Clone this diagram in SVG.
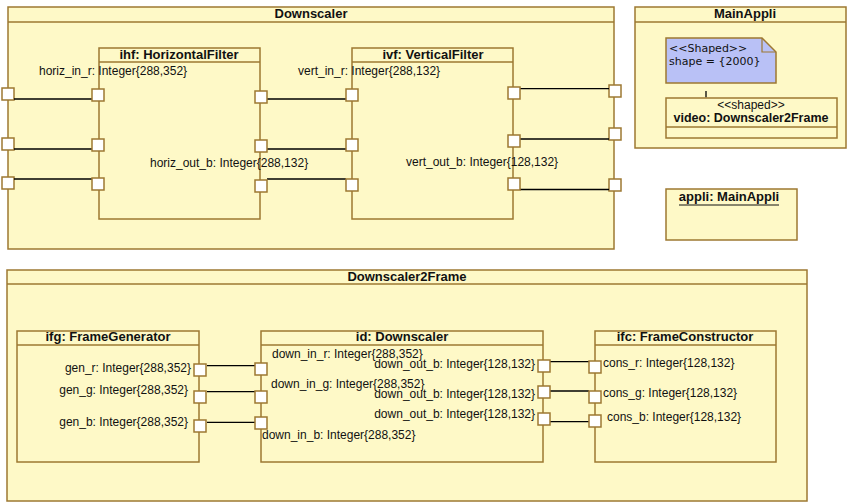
<svg xmlns="http://www.w3.org/2000/svg" width="847" height="502" viewBox="0 0 847 502">
<style>
.fr{fill:#fef9c7;stroke:#9d7832;stroke-width:1.5}
.bx{fill:#fef9c7;stroke:#9d7832;stroke-width:1.5}
.dv{stroke:#9d7832;stroke-width:1.5}
.pt{fill:#ffffff;stroke:#9d7832;stroke-width:1.5}
.cn{stroke:#000;stroke-width:1.3;fill:none}
.t{font-family:"Liberation Sans",Arial,sans-serif;font-size:12px;fill:#111}
.b{font-family:"Liberation Sans",Arial,sans-serif;font-size:13px;font-weight:bold;fill:#111;text-anchor:middle}
.m{font-family:"DejaVu Sans",sans-serif;font-size:11px;fill:#111}
</style>
<rect width="847" height="502" fill="#ffffff"/>
<g id="Downscaler">
<rect class="fr" x="8" y="7" width="606" height="242"/>
<line class="dv" x1="8" y1="22" x2="614" y2="22"/>
<text class="b" x="311" y="18">Downscaler</text>
<rect class="pt" x="2" y="88" width="12" height="12"/>
<rect class="pt" x="2" y="138" width="12" height="12"/>
<rect class="pt" x="2" y="177" width="12" height="12"/>
<rect class="pt" x="609" y="85" width="12" height="12"/>
<rect class="pt" x="609" y="128" width="12" height="12"/>
<rect class="pt" x="609" y="179" width="12" height="12"/>
</g>
<g id="MainAppli">
<rect class="fr" x="635" y="7" width="211" height="141"/>
<line class="dv" x1="635" y1="22" x2="846" y2="22"/>
<text class="b" x="745" y="18">MainAppli</text>
</g>
<g id="Downscaler2Frame">
<rect class="fr" x="7" y="270" width="800" height="231"/>
<line class="dv" x1="7" y1="284" x2="807" y2="284"/>
<text class="b" x="407" y="281">Downscaler2Frame</text>
</g>
<g id="connectors">
<line class="cn" x1="14" y1="99" x2="92" y2="99"/>
<line class="cn" x1="14" y1="149" x2="92" y2="149"/>
<line class="cn" x1="14" y1="179" x2="92" y2="179"/>
<line class="cn" x1="267" y1="99" x2="346" y2="99"/>
<line class="cn" x1="267" y1="149" x2="346" y2="149"/>
<line class="cn" x1="267" y1="179" x2="346" y2="179"/>
<line class="cn" x1="520" y1="88.7" x2="609" y2="88.7"/>
<line class="cn" x1="520" y1="139" x2="609" y2="139"/>
<line class="cn" x1="520" y1="189.5" x2="609" y2="189.5"/>
<line class="cn" x1="207" y1="365.7" x2="255" y2="365.7"/>
<line class="cn" x1="207" y1="391.7" x2="255" y2="391.7"/>
<line class="cn" x1="207" y1="422.3" x2="255" y2="422.3"/>
<line class="cn" x1="550" y1="361.7" x2="589" y2="361.7"/>
<line class="cn" x1="550" y1="391" x2="589" y2="391"/>
<line class="cn" x1="550" y1="421.7" x2="589" y2="421.7"/>
<line class="cn" x1="706" y1="91" x2="706" y2="97.5"/>
</g>
<g id="ihf">
<rect class="bx" x="99" y="48" width="161" height="171"/>
<line class="dv" x1="99" y1="62" x2="260" y2="62"/>
<text class="b" x="179" y="59">ihf: HorizontalFilter</text>
<rect class="pt" x="92" y="89" width="12" height="12"/>
<rect class="pt" x="92" y="139" width="12" height="12"/>
<rect class="pt" x="92" y="178" width="12" height="12"/>
<rect class="pt" x="255" y="91" width="12" height="12"/>
<rect class="pt" x="255" y="140" width="12" height="12"/>
<rect class="pt" x="255" y="180" width="12" height="12"/>
<text class="t" x="39" y="75">horiz_in_r: Integer{288,352}</text>
<text class="t" x="150" y="167">horiz_out_b: Integer{288,132}</text>
</g>
<g id="ivf">
<rect class="bx" x="352" y="48" width="161" height="171"/>
<line class="dv" x1="352" y1="62" x2="513" y2="62"/>
<text class="b" x="433" y="59">ivf: VerticalFilter</text>
<rect class="pt" x="346" y="89" width="12" height="12"/>
<rect class="pt" x="346" y="139" width="12" height="12"/>
<rect class="pt" x="346" y="179" width="12" height="12"/>
<rect class="pt" x="508" y="87" width="12" height="12"/>
<rect class="pt" x="508" y="135" width="12" height="12"/>
<rect class="pt" x="508" y="178" width="12" height="12"/>
<text class="t" x="298" y="75">vert_in_r: Integer{288,132}</text>
<text class="t" x="406" y="166">vert_out_b: Integer{128,132}</text>
</g>
<g id="note">
<path d="M666,38 H762 L776,52 V83 H666 Z" fill="#b9c1f6" stroke="#9d7832" stroke-width="1.5"/>
<path d="M762,38 V52 H776" fill="none" stroke="#9d7832" stroke-width="1.2"/>
<text class="m" x="669" y="52">&lt;&lt;Shaped&gt;&gt;</text>
<text class="m" x="669" y="65">shape = {2000}</text>
</g>
<g id="video">
<rect class="bx" x="666" y="98" width="171" height="40"/>
<line class="dv" x1="666" y1="127" x2="837" y2="127"/>
<text class="t" x="751" y="108.5" text-anchor="middle">&lt;&lt;shaped&gt;&gt;</text>
<text class="b" x="751" y="122" style="font-size:12.5px">video: Downscaler2Frame</text>
</g>
<g id="appli">
<rect class="bx" x="666" y="189" width="131" height="51"/>
<text class="b" x="729" y="201">appli: MainAppli</text>
<line x1="679" y1="205" x2="779" y2="205" stroke="#111" stroke-width="1"/>
</g>
<g id="ifg">
<rect class="bx" x="17" y="331" width="182" height="131"/>
<line class="dv" x1="17" y1="345" x2="199" y2="345"/>
<text class="b" x="108" y="341">ifg: FrameGenerator</text>
<rect class="pt" x="194" y="364" width="12" height="12"/>
<rect class="pt" x="194" y="391" width="12" height="12"/>
<rect class="pt" x="194" y="420" width="12" height="12"/>
<text class="t" x="191" y="372" text-anchor="end">gen_r: Integer{288,352}</text>
<text class="t" x="188" y="394" text-anchor="end">gen_g: Integer{288,352}</text>
<text class="t" x="188" y="426" text-anchor="end">gen_b: Integer{288,352}</text>
</g>
<g id="id">
<rect class="bx" x="261" y="331" width="282" height="131"/>
<line class="dv" x1="261" y1="345" x2="543" y2="345"/>
<text class="b" x="402" y="341">id: Downscaler</text>
<rect class="pt" x="255" y="363" width="12" height="12"/>
<rect class="pt" x="255" y="391" width="12" height="12"/>
<rect class="pt" x="255" y="417" width="12" height="12"/>
<rect class="pt" x="538" y="360" width="12" height="12"/>
<rect class="pt" x="538" y="386" width="12" height="12"/>
<rect class="pt" x="538" y="413" width="12" height="12"/>
<text class="t" x="272" y="358">down_in_r: Integer{288,352}</text>
<text class="t" x="271" y="388">down_in_g: Integer{288,352}</text>
<text class="t" x="262" y="439">down_in_b: Integer{288,352}</text>
<text class="t" x="535" y="368" text-anchor="end">down_out_b: Integer{128,132}</text>
<text class="t" x="535" y="398" text-anchor="end">down_out_b: Integer{128,132}</text>
<text class="t" x="535" y="418" text-anchor="end">down_out_b: Integer{128,132}</text>
</g>
<g id="ifc">
<rect class="bx" x="595" y="331" width="181" height="131"/>
<line class="dv" x1="595" y1="345" x2="776" y2="345"/>
<text class="b" x="685" y="341">ifc: FrameConstructor</text>
<rect class="pt" x="589" y="361" width="12" height="12"/>
<rect class="pt" x="589" y="391" width="12" height="12"/>
<rect class="pt" x="589" y="415" width="12" height="12"/>
<text class="t" x="603" y="367">cons_r: Integer{128,132}</text>
<text class="t" x="603" y="397">cons_g: Integer{128,132}</text>
<text class="t" x="607" y="421">cons_b: Integer{128,132}</text>
</g>
</svg>
